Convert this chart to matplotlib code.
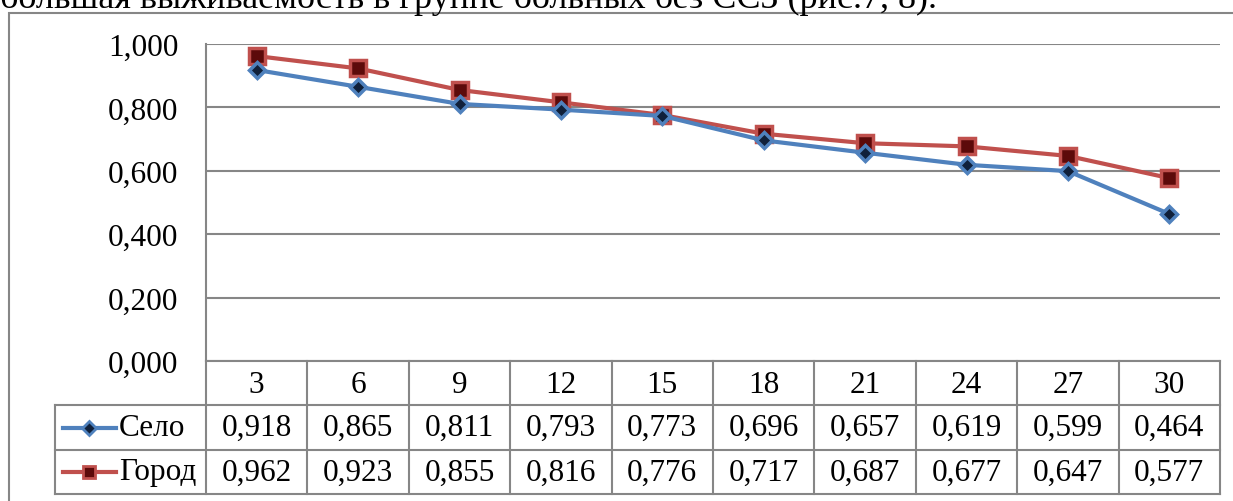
import matplotlib.pyplot as plt
from matplotlib.lines import Line2D
from matplotlib.patches import Rectangle

plt.rcParams['font.family'] = ['Liberation Serif', 'DejaVu Serif']

# data
months = ['3', '6', '9', '12', '15', '18', '21', '24', '27', '30']
selo = [0.918, 0.865, 0.811, 0.793, 0.773, 0.696, 0.657, 0.619, 0.599, 0.464]
gorod = [0.962, 0.923, 0.855, 0.816, 0.776, 0.717, 0.687, 0.677, 0.647, 0.577]
series_names = ['Село', 'Город']
yticks = [0.0, 0.2, 0.4, 0.6, 0.8, 1.0]
ytick_labels = ['0,000', '0,200', '0,400', '0,600', '0,800', '1,000']

W, H = 1233, 502
fig = plt.figure(figsize=(W / 100, H / 100), dpi=100)

grid_c = '#868686'
blue = '#4F81BD'
red = '#C0504D'
fs = 22.5

# clipped line of text above the chart
fig.text(0, 1 - 8 / H, 'большая выживаемость в группе больных без ССЗ (рис.7, 8).',
         fontsize=26, va='baseline', ha='left')

# outer frame
fig.patches.append(Rectangle((9 / W, -0.1), 1.2, (H - 14) / H + 0.1, transform=fig.transFigure,
                             fill=False, edgecolor=grid_c, linewidth=1.5, zorder=0))

# plot area
left, right, top, bottom = 206, 1220, 45, 362
ax = fig.add_axes([left / W, 1 - bottom / H, (right - left) / W, (bottom - top) / H])
x = list(range(len(months)))
ax.plot(x, gorod, color=red, lw=3, marker='s', ms=11, mfc='#5C0A0A', mec=red, mew=2.5, zorder=3)
ax.plot(x, selo, color=blue, lw=3, marker='D', ms=8, mfc='#10203A', mec=blue, mew=2.5, zorder=4)
ax.set_xlim(-0.5, len(months) - 0.5)
ax.set_ylim(0, 1)
ax.set_yticks(yticks)
ax.set_yticklabels(ytick_labels, fontsize=fs)
ax.tick_params(axis='y', length=0, pad=20)
ax.set_xticks([])
ax.grid(axis='y', color=grid_c, lw=1.5)
for s in ['top', 'right', 'bottom']:
    ax.spines[s].set_visible(False)
ax.spines['left'].set_color(grid_c)
ax.spines['left'].set_linewidth(1.5)

# data table
tleft, tbottom = 55, 495
col_w = (right - left) / len(months)
tab = fig.add_axes([tleft / W, 1 - tbottom / H, (right - tleft) / W, (tbottom - bottom) / H])
x0 = -0.5 - (left - tleft) / col_w
tab.set_xlim(x0, len(months) - 0.5)
tab.set_ylim(3, 0)
tab.axis('off')
lw = 1.5
# horizontal lines
tab.plot([-0.5, len(months) - 0.5], [0, 0], color=grid_c, lw=lw, clip_on=False)
for yy in [1, 2, 3]:
    tab.plot([x0, len(months) - 0.5], [yy, yy], color=grid_c, lw=lw, clip_on=False)
# vertical lines
tab.plot([x0, x0], [1, 3], color=grid_c, lw=lw, clip_on=False)
for i in range(len(months) + 1):
    tab.plot([i - 0.5, i - 0.5], [0, 3], color=grid_c, lw=lw, clip_on=False)

for i, m in enumerate(months):
    tab.text(i, 0.52, m, ha='center', va='center', fontsize=fs)
    tab.text(i, 1.5, f'{selo[i]:.3f}'.replace('.', ','), ha='center', va='center', fontsize=fs)
    tab.text(i, 2.5, f'{gorod[i]:.3f}'.replace('.', ','), ha='center', va='center', fontsize=fs)

# legend keys in row labels
styles = [dict(color=blue, marker='D', ms=7, mfc='#10203A', mec=blue, mew=2),
          dict(color=red, marker='s', ms=9, mfc='#5C0A0A', mec=red, mew=2)]
for r, (name, st) in enumerate(zip(series_names, styles)):
    yy = 1.5 + r
    tab.add_line(Line2D([x0 + 0.08, x0 + 0.6], [yy, yy], lw=3, color=st['color']))
    tab.plot([x0 + 0.34], [yy], linestyle='none', **st)
    tab.text(x0 + 0.63, yy, name, ha='left', va='center', fontsize=fs)

fig.savefig('out.png', dpi=100, facecolor='white')
